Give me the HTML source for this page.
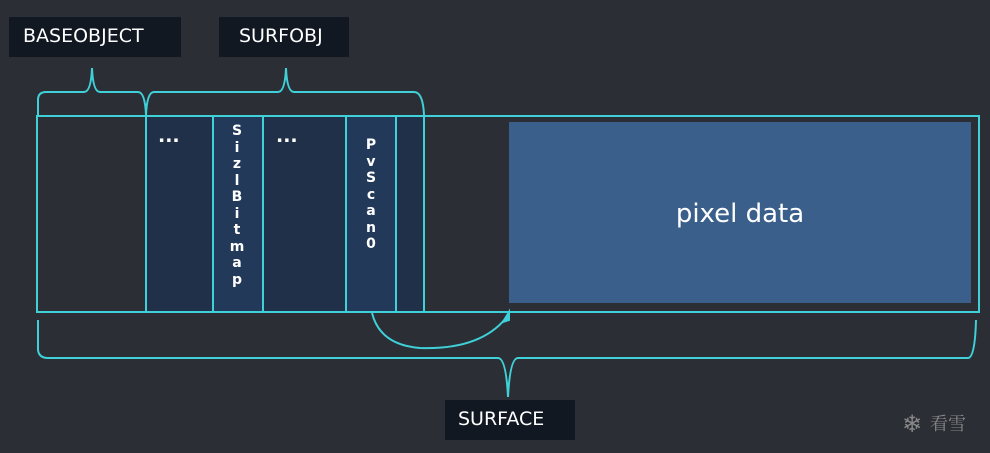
<!DOCTYPE html>
<html><head><meta charset="utf-8"><style>
body{margin:0;width:990px;height:453px;background:#2b2e35;overflow:hidden;position:relative;font-family:"DejaVu Sans","Liberation Sans",sans-serif}
.lbl{position:absolute;background:#111822;color:#fff;font-size:19px;line-height:38px;height:40px}
.v{position:absolute;color:#fff;font-weight:bold;font-size:14px;text-align:center;line-height:16.5px;width:20px}
</style></head><body>
<div class="lbl" style="left:9px;top:17px;width:172px;padding-left:14px;box-sizing:border-box">BASEOBJECT</div>
<div class="lbl" style="left:219px;top:17px;width:130px;padding-left:20px;box-sizing:border-box">SURFOBJ</div>
<div class="lbl" style="left:445px;top:400px;width:130px;padding-left:13px;box-sizing:border-box">SURFACE</div>
<svg width="990" height="453" style="position:absolute;left:0;top:0">
<g stroke="#3fd0d8" stroke-width="2" fill="none">
<rect x="37" y="116" width="942" height="196"/>
<rect x="146" y="116" width="67" height="196" fill="#1f3048"/>
<rect x="213" y="116" width="50" height="196" fill="#22395a"/>
<rect x="263" y="116" width="83" height="196" fill="#1f3048"/>
<rect x="346" y="116" width="50" height="196" fill="#22395a"/>
<rect x="396" y="116" width="28" height="196" fill="#1f3048"/>
<path d="M38,115 V100 Q38,92 46,92 H84 Q91,92 92,68 Q93,92 100,92 H138 Q145,92 146,115"/>
<path d="M146,115 Q147,92 154,92 H278 Q285,92 286,68 Q287,92 294,92 H414 Q423,92 424,115"/>
<path d="M38,320 V350 Q39,358 48,358 H498 Q506,358 508,397 Q510,358 518,358 H968 Q975,358 976,320"/>
<path d="M372,313 Q380,345 420,348 Q480,350 506,318"/>
</g>
<polygon points="509,312 503,322 509,320" fill="#3fd0d8" stroke="#3fd0d8" stroke-width="2"/>
<rect x="509" y="122" width="462" height="181" fill="#3a5f8a"/>
<text x="740" y="222" fill="#fff" font-size="26" text-anchor="middle" font-family="DejaVu Sans, sans-serif">pixel data</text>
<text x="158" y="142" fill="#fff" font-size="19" font-weight="bold">...</text>
<text x="276" y="142" fill="#fff" font-size="19" font-weight="bold">...</text>
<text x="930" y="430" fill="#888" font-size="18" font-family="Noto Serif CJK SC, serif">看雪</text>
<text x="902" y="432" fill="#888" font-size="24">❄</text>
</svg>
<div class="v" style="left:227px;top:123px">S<br>i<br>z<br>l<br>B<br>i<br>t<br>m<br>a<br>p</div>
<div class="v" style="left:361px;top:137px">P<br>v<br>S<br>c<br>a<br>n<br>0</div>
</body></html>
